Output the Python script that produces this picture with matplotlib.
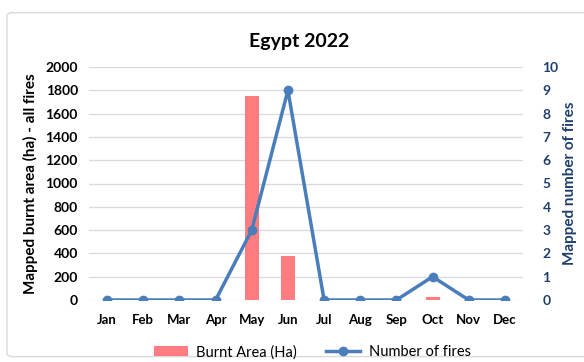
import matplotlib
matplotlib.use("Agg")
import matplotlib.pyplot as plt
from matplotlib.patches import FancyBboxPatch

plt.rcParams['font.family'] = ['Lato', 'DejaVu Sans']

months = ["Jan", "Feb", "Mar", "Apr", "May", "Jun", "Jul", "Aug", "Sep", "Oct", "Nov", "Dec"]
burnt_area = [0, 0, 0, 0, 1750, 380, 0, 0, 0, 30, 0, 0]
n_fires = [0, 0, 0, 0, 3, 9, 0, 0, 0, 1, 0, 0]

bar_color = "#FF7C80"
line_color = "#4A7EBB"
right_color = "#1F3F6E"

fig = plt.figure(figsize=(5.84, 3.62), dpi=100)
border = FancyBboxPatch((0.012, 0.015), 1.2, 0.95, boxstyle="round,pad=0,rounding_size=0.01",
                        transform=fig.transFigure, fc="white", ec="#D9D9D9", lw=1.0, zorder=-5)
fig.patches.append(border)

ax = fig.add_axes([89 / 584, 1 - 300 / 362, (523 - 89) / 584, 233 / 362])
ax.patch.set_alpha(0)
x = range(len(months))
ax.bar(x, burnt_area, width=0.39, color=bar_color, label="Burnt Area (Ha)", zorder=2)
ax.set_ylim(0, 2000)
ax.set_yticks(range(0, 2001, 200))
ax.set_xlim(-0.5, 11.5)
ax.set_xticks(list(x))
ax.set_xticklabels(months, fontweight="bold", fontsize=9.5)
for lab in ax.get_yticklabels():
    lab.set_fontweight("bold")
    lab.set_fontsize(10)
ax.grid(axis="y", color="#D9D9D9", lw=0.9, zorder=0)
ax.set_axisbelow(True)
for s in ax.spines.values():
    s.set_visible(False)
ax.tick_params(length=0, pad=8)
ax.tick_params(axis="x", pad=10)
ax.set_ylabel("Mapped burnt area (ha) - all fires", fontweight="bold", fontsize=11, labelpad=5)

ax2 = ax.twinx()
ax2.plot(x, n_fires, color=line_color, lw=2.5, marker="o", ms=6, label="Number of fires", zorder=3)
ax2.set_ylim(0, 10)
ax2.set_yticks(range(0, 11))
for lab in ax2.get_yticklabels():
    lab.set_fontweight("bold")
    lab.set_fontsize(10)
    lab.set_color(right_color)
for s in ax2.spines.values():
    s.set_visible(False)
ax2.tick_params(length=0, pad=14)
ax2.set_ylabel("Mapped number of fires", fontweight="bold", fontsize=11, color=right_color, labelpad=3)

fig.text(299 / 584, 1 - 41 / 362, "Egypt 2022", fontweight="bold", fontsize=14, ha="center", va="center")

h1, l1 = ax.get_legend_handles_labels()
h2, l2 = ax2.get_legend_handles_labels()
fig.legend(h1 + h2, l1 + l2, loc="center", bbox_to_anchor=(0.535, 0.027), ncol=2, frameon=False,
           fontsize=10.5, handlelength=2.3, handletextpad=0.6, columnspacing=2.0)

fig.savefig("out.png", dpi=100)
